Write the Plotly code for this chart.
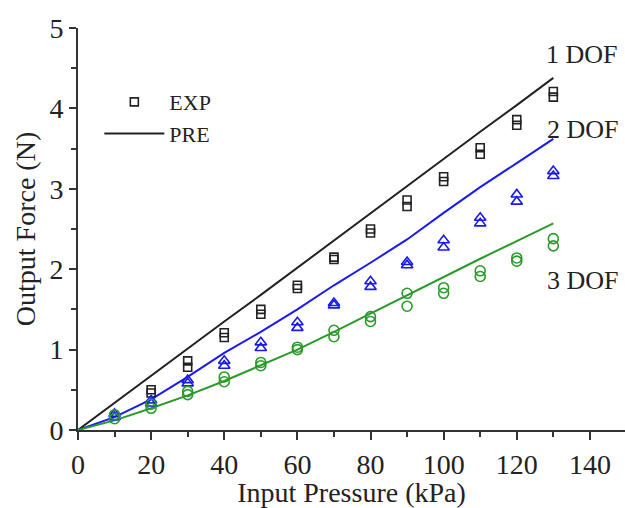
import plotly.graph_objects as go

# Predicted output force curves (model), sampled every 10 kPa
pressure_pre = [0, 10, 20, 30, 40, 50, 60, 70, 80, 90, 100, 110, 120, 130]
pre_1dof = [0, 0.34, 0.67, 1.01, 1.35, 1.68, 2.02, 2.36, 2.70, 3.03, 3.37, 3.71, 4.04, 4.38]
pre_2dof = [0, 0.16, 0.38, 0.66, 0.96, 1.22, 1.50, 1.80, 2.08, 2.37, 2.70, 3.02, 3.32, 3.62]
pre_3dof = [0, 0.12, 0.27, 0.43, 0.61, 0.81, 1.00, 1.22, 1.45, 1.68, 1.90, 2.13, 2.35, 2.57]

# Measured output force, two repeated runs per configuration
pressure_exp_1dof = [20, 30, 40, 50, 60, 70, 80, 90, 100, 110, 120, 130]
exp_1dof_run_a = [0.46, 0.78, 1.15, 1.44, 1.76, 2.12, 2.45, 2.78, 3.09, 3.43, 3.79, 4.14]
exp_1dof_run_b = [0.50, 0.86, 1.21, 1.50, 1.80, 2.15, 2.50, 2.86, 3.15, 3.51, 3.86, 4.21]

pressure_exp = [10, 20, 30, 40, 50, 60, 70, 80, 90, 100, 110, 120, 130]
exp_2dof_run_a = [0.16, 0.33, 0.58, 0.80, 1.02, 1.27, 1.55, 1.78, 2.05, 2.27, 2.57, 2.84, 3.16]
exp_2dof_run_b = [0.20, 0.37, 0.62, 0.86, 1.09, 1.34, 1.58, 1.85, 2.09, 2.36, 2.64, 2.93, 3.22]
exp_3dof_run_a = [0.14, 0.27, 0.44, 0.60, 0.80, 1.00, 1.16, 1.35, 1.54, 1.70, 1.91, 2.10, 2.29]
exp_3dof_run_b = [0.19, 0.32, 0.48, 0.66, 0.84, 1.03, 1.24, 1.41, 1.70, 1.77, 1.98, 2.14, 2.38]

x_ticks = [0, 20, 40, 60, 80, 100, 120, 140]
y_ticks = [0, 1, 2, 3, 4, 5]

series_labels = ["1 DOF", "2 DOF", "3 DOF"]

BLACK = "#222222"
BLUE = "#1a1aee"
GREEN = "#2a9a2a"
FONT = "Liberation Serif"

fig = go.Figure()

# model curves
for ys, col, name, show in [(pre_1dof, BLACK, "PRE", True),
                            (pre_2dof, BLUE, "PRE 2", False),
                            (pre_3dof, GREEN, "PRE 3", False)]:
    fig.add_trace(go.Scatter(x=pressure_pre, y=ys, mode="lines", name=name,
                             showlegend=show, legendrank=2,
                             line=dict(color=col, width=2)))

# measured points
def add_exp(xs, ys, col, symbol, size, name, show):
    fig.add_trace(go.Scatter(x=xs, y=ys, mode="markers", name=name,
                             showlegend=show, legendrank=1,
                             marker=dict(symbol=symbol, size=size, color=col,
                                         line=dict(color=col, width=1.6))))

add_exp(pressure_exp_1dof, exp_1dof_run_a, BLACK, "square-open", 8, "EXP", True)
add_exp(pressure_exp_1dof, exp_1dof_run_b, BLACK, "square-open", 8, "EXP b", False)
add_exp(pressure_exp, exp_2dof_run_a, BLUE, "triangle-up-open", 10, "2a", False)
add_exp(pressure_exp, exp_2dof_run_b, BLUE, "triangle-up-open", 10, "2b", False)
add_exp(pressure_exp, exp_3dof_run_a, GREEN, "circle-open", 10, "3a", False)
add_exp(pressure_exp, exp_3dof_run_b, GREEN, "circle-open", 10, "3b", False)

# series labels next to the curve ends
label_pos = [(137.8, 4.67), (138.1, 3.74), (138.1, 1.86)]
for (lx, ly), txt in zip(label_pos, series_labels):
    fig.add_annotation(x=lx, y=ly, text=txt, showarrow=False, xanchor="center",
                       yanchor="middle", font=dict(family=FONT, size=26, color=BLACK))

axis_common = dict(showline=True, linecolor="#333333", linewidth=2,
                   ticks="outside", tickcolor="#333333", tickwidth=2,
                   showgrid=False, zeroline=False,
                   tickfont=dict(family=FONT, size=28, color=BLACK),
                   title_font=dict(family=FONT, size=28, color=BLACK))

fig.update_xaxes(range=[0, 149.6], tickvals=x_ticks, ticklen=8,
                 minor=dict(dtick=10, ticks="outside", ticklen=5, tickcolor="#333333", tickwidth=2),
                 title_text="Input Pressure (kPa)", title_standoff=4, **axis_common)
fig.update_yaxes(range=[0, 5], tickvals=y_ticks, ticklen=7,
                 minor=dict(dtick=0.5, ticks="outside", ticklen=5, tickcolor="#333333", tickwidth=2),
                 title_text="Output Force (N)", title_standoff=6, **axis_common)

fig.update_layout(
    width=625, height=508,
    margin=dict(l=78, r=0, t=28, b=78),
    plot_bgcolor="white", paper_bgcolor="white",
    showlegend=True,
    legend=dict(x=0.039, y=0.868, xanchor="left", yanchor="top",
                bgcolor="rgba(0,0,0,0)", itemwidth=60,
                font=dict(family=FONT, size=22, color=BLACK)),
)

fig.write_html("out.html")
